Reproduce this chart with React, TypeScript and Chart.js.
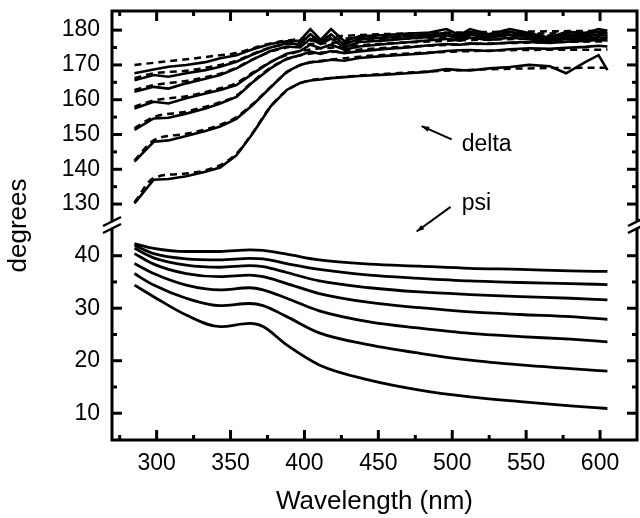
import React, { useEffect, useRef } from 'react';
import { Chart, registerables } from 'chart.js';

Chart.register(...registerables);

const FONT = "'Liberation Sans', Arial, Helvetica, sans-serif";

// Wavelengths (nm)
const deltaWavelengths = [285, 298, 308, 320, 333, 343, 354, 365, 377, 388, 397, 404, 411, 418, 427, 437, 455, 470, 483, 496, 505, 512, 525, 539, 552, 566, 577, 590, 599, 605];
const fitWavelengths = [285, 298, 320, 343, 354, 365, 377, 388, 400, 420, 450, 500, 550, 605];
const psiWavelengths = [285, 298, 320, 343, 363, 372, 388, 410, 444, 478, 512, 546, 580, 605];

// Measured delta (solid)
const deltaA = [130.2, 137.0, 137.2, 138.0, 139.3, 140.5, 144.0, 150.3, 158.0, 162.8, 164.8, 165.5, 165.8, 166.2, 166.5, 166.8, 167.2, 167.6, 168.0, 168.8, 168.5, 168.4, 169.0, 169.4, 170.0, 169.6, 167.6, 170.8, 172.8, 168.5];
const deltaB = [142.2, 147.9, 148.3, 149.6, 151.0, 152.3, 154.5, 158.5, 163.5, 168.0, 170.0, 170.8, 171.0, 171.5, 171.2, 172.0, 172.6, 173.0, 173.4, 174.0, 174.2, 174.3, 174.0, 174.5, 174.8, 174.6, 174.9, 175.2, 175.5, 175.3];
const deltaC = [151.3, 154.6, 154.8, 156.0, 157.5, 158.9, 160.8, 165.0, 169.0, 171.8, 172.8, 173.8, 173.2, 174.0, 173.4, 173.9, 174.6, 175.0, 175.6, 176.0, 175.8, 176.2, 176.0, 176.4, 176.6, 176.3, 176.7, 176.9, 177.2, 177.0];
const deltaD = [157.5, 159.4, 158.9, 160.4, 161.8, 162.8, 164.2, 167.5, 170.8, 173.2, 174.0, 175.8, 174.8, 175.8, 174.4, 175.3, 176.0, 176.5, 177.0, 177.5, 177.0, 177.8, 177.2, 177.8, 177.4, 176.5, 177.6, 177.4, 178.0, 177.6];
const deltaE = [162.3, 163.7, 163.2, 164.7, 166.0, 167.1, 169.0, 171.5, 174.0, 175.3, 175.0, 177.5, 176.0, 177.6, 175.0, 176.6, 177.0, 177.6, 178.0, 178.5, 177.5, 178.7, 177.8, 178.7, 178.0, 176.8, 178.2, 178.0, 178.8, 178.3];
const deltaF = [165.6, 167.1, 166.6, 167.6, 168.5, 169.5, 170.9, 173.0, 175.0, 176.2, 176.0, 178.8, 176.5, 178.8, 175.8, 177.5, 177.8, 178.3, 178.6, 179.2, 178.0, 179.5, 178.3, 179.5, 178.6, 177.2, 178.8, 178.6, 179.6, 179.0];
const deltaG = [167.6, 168.7, 169.5, 170.0, 170.8, 171.9, 172.8, 174.5, 176.0, 176.8, 177.0, 180.3, 177.2, 180.3, 176.8, 178.2, 178.6, 179.0, 179.2, 180.3, 178.6, 180.3, 178.8, 180.3, 179.2, 177.8, 179.5, 179.2, 180.3, 179.8];

// Fitted delta (dashed)
const fitA = [130.5, 137.5, 138.8, 141.2, 144.5, 150.5, 158.0, 162.6, 165.2, 166.3, 167.3, 168.4, 169.0, 169.2];
const fitB = [142.5, 148.3, 150.2, 152.8, 155.0, 158.8, 163.6, 167.8, 170.3, 171.6, 172.8, 173.8, 174.3, 174.4];
const fitC = [151.8, 155.0, 156.6, 159.3, 161.2, 165.2, 169.2, 171.6, 173.0, 173.8, 174.8, 175.8, 176.4, 176.8];
const fitD = [158.0, 159.8, 161.0, 163.3, 164.8, 167.8, 170.8, 172.8, 174.2, 175.0, 176.0, 177.0, 177.5, 177.8];
const fitE = [162.8, 164.2, 165.4, 167.5, 169.2, 171.6, 173.8, 175.0, 175.8, 176.4, 177.2, 178.0, 178.4, 178.6];
const fitF = [166.2, 167.6, 168.3, 170.0, 171.2, 173.2, 175.0, 176.0, 176.8, 177.4, 178.0, 178.7, 179.0, 179.2];
const fitG = [170.0, 170.6, 171.6, 172.8, 173.4, 174.8, 176.2, 177.0, 177.6, 178.2, 178.8, 179.3, 179.6, 179.8];

// psi curves
const psi1 = [42.3, 41.4, 40.8, 40.8, 41.1, 41.0, 40.3, 39.2, 38.4, 38.0, 37.6, 37.4, 37.1, 37.0];
const psi2 = [42.0, 40.4, 39.4, 39.2, 39.5, 39.4, 38.5, 37.4, 36.3, 35.7, 35.2, 34.9, 34.7, 34.5];
const psi3 = [41.4, 39.6, 38.2, 37.8, 38.1, 37.9, 36.8, 35.2, 33.9, 33.1, 32.6, 32.2, 31.9, 31.6];
const psi4 = [40.4, 38.4, 36.6, 36.0, 36.3, 36.0, 34.7, 32.8, 31.1, 30.1, 29.3, 28.8, 28.4, 27.9];
const psi5 = [38.5, 36.6, 34.4, 33.5, 33.9, 33.5, 31.9, 29.5, 27.4, 26.2, 25.2, 24.6, 24.1, 23.6];
const psi6 = [36.6, 34.4, 31.9, 30.5, 30.9, 30.5, 28.4, 25.3, 23.0, 21.4, 20.1, 19.2, 18.5, 18.0];
const psi7 = [34.4, 32.2, 28.7, 26.5, 27.1, 26.5, 23.0, 19.2, 16.3, 14.4, 13.1, 12.2, 11.4, 10.9];

// Ticks
const xTicks = [300, 350, 400, 450, 500, 550, 600];
const xMinorTicks = [275, 325, 375, 425, 475, 525, 575];
const deltaTicks = [130, 140, 150, 160, 170, 180];
const deltaMinorTicks = [135, 145, 155, 165, 175];
const psiTicks = [10, 20, 30, 40];
const psiMinorTicks = [15, 25, 35];

const deltaSolid = [deltaA, deltaB, deltaC, deltaD, deltaE, deltaF, deltaG];
const deltaFits = [fitA, fitB, fitC, fitD, fitE, fitF, fitG];
const psiSeries = [psi1, psi2, psi3, psi4, psi5, psi6, psi7];

const framePlugin = {
  id: 'frame',
  afterDatasetsDraw(chart: any) {
    const { ctx, chartArea, scales } = chart;
    const { left, right, top, bottom } = chartArea;
    const line = (x1: number, y1: number, x2: number, y2: number) => {
      ctx.beginPath();
      ctx.moveTo(x1, y1);
      ctx.lineTo(x2, y2);
      ctx.stroke();
    };
    ctx.save();
    ctx.strokeStyle = '#000';
    ctx.fillStyle = '#000';
    ctx.lineCap = 'butt';
    ctx.lineWidth = 3;
    const xs = scales.x;
    xTicks.forEach((v) => {
      const p = xs.getPixelForValue(v);
      line(p, bottom, p, bottom - 10);
      line(p, top, p, top + 10);
    });
    xMinorTicks.forEach((v) => {
      const p = xs.getPixelForValue(v);
      line(p, bottom, p, bottom - 5);
      line(p, top, p, top + 5);
    });
    const yTickSets: Array<[any, number[], number[]]> = [
      [scales.yD, deltaTicks, deltaMinorTicks],
      [scales.yP, psiTicks, psiMinorTicks],
    ];
    yTickSets.forEach(([s, major, minor]) => {
      major.forEach((v) => {
        const p = s.getPixelForValue(v);
        line(left, p, left + 10, p);
        line(right, p, right - 10, p);
      });
      minor.forEach((v) => {
        const p = s.getPixelForValue(v);
        line(left, p, left + 5, p);
        line(right, p, right - 5, p);
      });
    });
    ctx.lineWidth = 3;
    ctx.strokeRect(left, top, right - left, bottom - top);

    // axis break marks
    const by = scales.yD.bottom;
    [left, right].forEach((bx) => {
      ctx.fillStyle = '#fff';
      ctx.beginPath();
      ctx.moveTo(bx - 9, by + 6);
      ctx.lineTo(bx + 9, by - 3);
      ctx.lineTo(bx + 9, by - 8);
      ctx.lineTo(bx - 9, by + 1);
      ctx.closePath();
      ctx.fill();
      ctx.lineWidth = 2.5;
      line(bx - 9, by + 7, bx + 9, by - 2);
      line(bx - 9, by, bx + 9, by - 9);
    });

    // annotations
    const arrow = (x1: number, y1: number, x2: number, y2: number) => {
      ctx.lineWidth = 2;
      line(x1, y1, x2, y2);
      const a = Math.atan2(y2 - y1, x2 - x1);
      const L = 8;
      ctx.fillStyle = '#000';
      ctx.beginPath();
      ctx.moveTo(x2, y2);
      ctx.lineTo(x2 - L * Math.cos(a - 0.35), y2 - L * Math.sin(a - 0.35));
      ctx.lineTo(x2 - L * Math.cos(a + 0.35), y2 - L * Math.sin(a + 0.35));
      ctx.closePath();
      ctx.fill();
    };
    const yD = scales.yD;
    const yP = scales.yP;
    arrow(xs.getPixelForValue(499.6), yD.getPixelForValue(148.6), xs.getPixelForValue(479.3), yD.getPixelForValue(152.4));
    arrow(xs.getPixelForValue(498.9), yD.getPixelForValue(129.2), xs.getPixelForValue(475.9), yP.getPixelForValue(44.6));
    ctx.fillStyle = '#000';
    ctx.font = `23px ${FONT}`;
    ctx.textAlign = 'left';
    ctx.textBaseline = 'alphabetic';
    ctx.fillText('delta', xs.getPixelForValue(506.4), yD.getPixelForValue(145.3));
    ctx.fillText('psi', xs.getPixelForValue(506.4), yD.getPixelForValue(128.3));
    ctx.restore();
  },
};

export default function App() {
  const canvasRef = useRef<HTMLCanvasElement | null>(null);

  useEffect(() => {
    const canvas = canvasRef.current;
    if (!canvas) return;

    const datasets: any[] = [];
    deltaSolid.forEach((arr, k) => {
      datasets.push({
        label: `delta ${k + 1}`,
        data: deltaWavelengths.map((w, i) => ({ x: w, y: arr[i] })),
        yAxisID: 'yD',
        borderColor: '#000',
        borderWidth: 2.6,
        pointRadius: 0,
        tension: 0,
        fill: false,
      });
    });
    deltaFits.forEach((arr, k) => {
      datasets.push({
        label: `delta fit ${k + 1}`,
        data: fitWavelengths.map((w, i) => ({ x: w, y: arr[i] })),
        yAxisID: 'yD',
        borderColor: '#000',
        borderWidth: 2.5,
        borderDash: [7, 5],
        pointRadius: 0,
        cubicInterpolationMode: 'monotone',
        fill: false,
      });
    });
    psiSeries.forEach((arr, k) => {
      datasets.push({
        label: `psi ${k + 1}`,
        data: psiWavelengths.map((w, i) => ({ x: w, y: arr[i] })),
        yAxisID: 'yP',
        borderColor: '#000',
        borderWidth: 2.8,
        pointRadius: 0,
        cubicInterpolationMode: 'monotone',
        fill: false,
      });
    });

    const tickFont = { family: FONT, size: 23 };
    const noPad = (s: any) => {
      s.paddingTop = 0;
      s.paddingBottom = 0;
    };
    const chart = new Chart(canvas, {
      type: 'line',
      data: { datasets },
      options: {
        responsive: false,
        animation: false,
        devicePixelRatio: 1,
        layout: { padding: { top: 11, right: 3, left: 0, bottom: 0 } },
        plugins: { legend: { display: false }, tooltip: { enabled: false } },
        scales: {
          x: {
            type: 'linear',
            min: 269.8,
            max: 625,
            grid: { display: false, drawTicks: false },
            border: { display: false },
            afterBuildTicks: (s: any) => {
              s.ticks = xTicks.map((v) => ({ value: v }));
            },
            afterFit: (s: any) => {
              s.height = 78;
              s.paddingLeft = 0;
              s.paddingRight = 0;
            },
            ticks: { font: tickFont, color: '#000', padding: 10, maxRotation: 0, autoSkip: false },
            title: {
              display: true,
              text: 'Wavelength (nm)',
              color: '#000',
              font: { family: FONT, size: 26 },
              padding: { top: 0, bottom: 1 },
            },
          },
          yT: {
            type: 'linear',
            position: 'left',
            weight: 5,
            min: 0,
            max: 1,
            grid: { display: false, drawTicks: false },
            border: { display: false },
            ticks: { display: false },
            afterFit: (s: any) => {
              s.width = 28;
              noPad(s);
            },
            title: {
              display: true,
              text: 'degrees',
              color: '#000',
              font: { family: FONT, size: 26 },
              padding: { top: 3, bottom: 0 },
            },
          },
          yP: {
            type: 'linear',
            position: 'left',
            stack: 'deg',
            stackWeight: 214,
            min: 4.9,
            max: 45.66,
            grid: { display: false, drawTicks: false },
            border: { display: false },
            afterBuildTicks: (s: any) => {
              s.ticks = psiTicks.map((v) => ({ value: v }));
            },
            afterFit: (s: any) => {
              s.width = 84;
              noPad(s);
            },
            ticks: { font: tickFont, color: '#000', padding: 12, autoSkip: false },
          },
          yD: {
            type: 'linear',
            position: 'left',
            stack: 'deg',
            stackWeight: 215,
            min: 123.7,
            max: 185.5,
            grid: { display: false, drawTicks: false },
            border: { display: false },
            afterBuildTicks: (s: any) => {
              s.ticks = deltaTicks.map((v) => ({ value: v }));
            },
            afterFit: (s: any) => {
              s.width = 84;
              noPad(s);
            },
            ticks: { font: tickFont, color: '#000', padding: 12, autoSkip: false },
          },
        },
      } as any,
      plugins: [framePlugin],
    });

    return () => {
      chart.destroy();
    };
  }, []);

  return (
    <div style={{ position: 'fixed', left: 0, top: 0, width: 640, height: 518, background: '#fff' }}>
      <canvas ref={canvasRef} width={640} height={518} style={{ display: 'block', width: 640, height: 518 }} />
    </div>
  );
}
